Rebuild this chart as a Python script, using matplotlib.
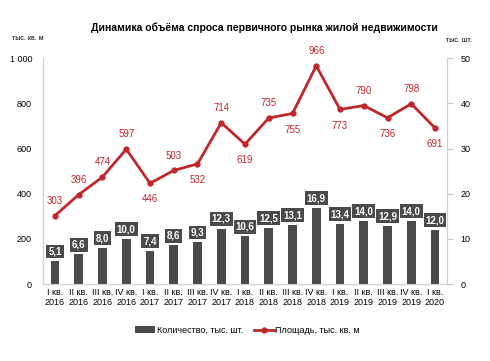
import matplotlib
matplotlib.use('Agg')
import matplotlib.pyplot as plt
import numpy as np

plt.rcParams['font.family'] = ['Liberation Sans', 'DejaVu Sans']

# ── Data ───────────────────────────────────────────────────────────────
quarters = ['I кв.\n2016', 'II кв.\n2016', 'III кв.\n2016', 'IV кв.\n2016',
            'I кв.\n2017', 'II кв.\n2017', 'III кв.\n2017', 'IV кв.\n2017',
            'I кв.\n2018', 'II кв.\n2018', 'III кв.\n2018', 'IV кв.\n2018',
            'I кв.\n2019', 'II кв.\n2019', 'III кв.\n2019', 'IV кв.\n2019',
            'I кв.\n2020']
count = [5.1, 6.6, 8.0, 10.0, 7.4, 8.6, 9.3, 12.3, 10.6, 12.5, 13.1, 16.9,
         13.4, 14.0, 12.9, 14.0, 12.0]
area = [303, 396, 474, 597, 446, 503, 532, 714, 619, 735, 755, 966,
        773, 790, 736, 798, 691]
label_below = [False, False, False, False, True, False, True, False, True,
               False, True, False, True, False, True, False, True]

BAR_COLOR = '#4a4a4a'
LINE_COLOR = '#c0272d'

fig = plt.figure(figsize=(4.9, 3.61), dpi=100)
ax = fig.add_axes([0.088, 0.213, 0.824, 0.626])
ax2 = ax.twinx()

x = np.arange(len(quarters))

# bars on right axis (thousand units)
bars = ax2.bar(x, count, width=0.36, color=BAR_COLOR, zorder=2)
for xi, v in zip(x, count):
    ax2.text(xi, v + 1.0, f'{v:.1f}'.replace('.', ','), ha='center', va='bottom',
             fontsize=7, color='white', fontweight='bold', zorder=4,
             bbox=dict(boxstyle='square,pad=0.2', fc=BAR_COLOR, ec='none'))

# line values belong to the left axis (0-1000) -> 1000 maps to 50 on ax2
area_scaled = [a / 20 for a in area]
line, = ax2.plot(x, area_scaled, color=LINE_COLOR, lw=2, marker='o', ms=3.5, zorder=5)
for xi, a, below in zip(x, area, label_below):
    off = -8 if below else 7
    ax2.annotate(str(a), (xi, a / 20), xytext=(0, off), textcoords='offset points',
                 ha='center', va='top' if below else 'bottom', fontsize=7,
                 color=LINE_COLOR, zorder=6)

ax.set_ylim(0, 1000)
ax.set_yticks(range(0, 1001, 200))
ax.set_yticklabels(['0', '200', '400', '600', '800', '1 000'])
ax2.set_ylim(0, 50)
ax2.set_yticks(range(0, 51, 10))
ax.set_xlim(-0.5, len(quarters) - 0.5)
ax.set_xticks(x)
ax.set_xticklabels(quarters, fontsize=6.5, linespacing=1.1)

for a in (ax, ax2):
    a.tick_params(axis='y', labelsize=6.5, length=4, color='#c8c8c8')
    a.spines['top'].set_visible(False)
    for s in ('left', 'right', 'bottom'):
        a.spines[s].set_color('#d0d0d0')
ax.tick_params(axis='x', length=0, pad=3)
ax.tick_params(axis='y', length=0, pad=8)
ax2.tick_params(axis='y', pad=6)

fig.text(0.54, 0.922, 'Динамика объёма спроса первичного рынка жилой недвижимости',
         ha='center', va='center', fontsize=7.5, fontweight='bold')
fig.text(0.025, 0.893, 'тыс. кв. м', fontsize=5, va='center')
fig.text(0.91, 0.888, 'тыс. шт.', fontsize=5, va='center')

fig.legend([bars, line], ['Количество, тыс. шт.', 'Площадь, тыс. кв. м'],
           loc='center', bbox_to_anchor=(0.505, 0.085), ncol=2,
           frameon=False, fontsize=6.5, handlelength=2.2, columnspacing=1.2,
           handletextpad=0.2)

fig.savefig('out.png', dpi=100)
